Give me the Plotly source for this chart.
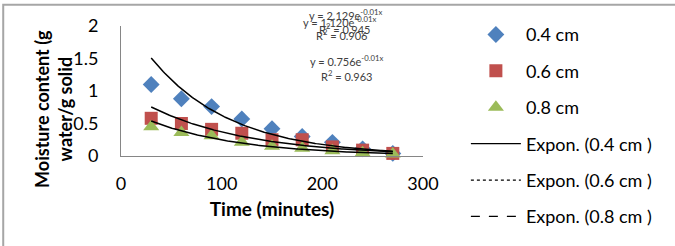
import numpy as np
import plotly.graph_objects as go

time_min = [30, 60, 90, 120, 150, 180, 210, 240, 270]
mc_04 = [1.10, 0.88, 0.76, 0.57, 0.42, 0.30, 0.21, 0.11, 0.04]
mc_06 = [0.58, 0.50, 0.41, 0.35, 0.25, 0.25, 0.14, 0.09, 0.04]
mc_08 = [0.45, 0.36, 0.31, 0.21, 0.15, 0.12, 0.08, 0.05, 0.03]
series_names = ["0.4 cm", "0.6 cm", "0.8 cm"]
trend_names = ["Expon. (0.4 cm )", "Expon. (0.6 cm )", "Expon. (0.8 cm )"]
eq_texts = ["y = 2.129e<sup>-0.01x</sup>", "y = 1.120e<sup>-0.01x</sup>",
            "R<sup>2</sup> = 0.945", "R<sup>2</sup> = 0.906",
            "y = 0.756e<sup>-0.01x</sup>", "R<sup>2</sup> = 0.963"]

colors = ["#4F81BD", "#C0504D", "#9BBB59"]
symbols = ["diamond", "square", "triangle-up"]
sizes = [13, 13, 14]
dashes = ["solid", "dot", "dash"]
FONT = "Lato"

fig = go.Figure()
data = [mc_04, mc_06, mc_08]
for i, ys in enumerate(data):
    fig.add_trace(go.Scatter(x=time_min, y=ys, mode="markers", name=series_names[i],
                             marker=dict(symbol=symbols[i], size=sizes[i], color=colors[i]),
                             legendgroup=f"g{i}", legendrank=i + 1, cliponaxis=False))

xs = np.array(time_min, dtype=float)
xfit = np.linspace(xs.min(), xs.max(), 200)
for i, ys in enumerate(data):
    k, lna = np.polyfit(xs, np.log(np.array(ys)), 1)
    fig.add_trace(go.Scatter(x=xfit, y=np.exp(lna) * np.exp(k * xfit), mode="lines",
                             line=dict(color="black", width=1.5), showlegend=False,
                             hoverinfo="skip", cliponaxis=False))
for i in range(3):
    fig.add_trace(go.Scatter(x=[None], y=[None], mode="lines", name=trend_names[i],
                             line=dict(color="black", width=1.2, dash=dashes[i]),
                             legendgroup=f"t{i}", legendrank=4 + i))

# annotation positions in paper coordinates (x, y)
eq_pos = [(0.742, 1.085), (0.725, 1.031), (0.742, 0.977), (0.732, 0.931), (0.748, 0.731), (0.748, 0.623)]
for t, (ax_, ay_) in zip(eq_texts, eq_pos):
    fig.add_annotation(x=ax_, y=ay_, xref="paper", yref="paper", text=t, showarrow=False,
                       xanchor="center", yanchor="middle",
                       font=dict(family=FONT, size=11, color="#404040"))

fig.add_annotation(x=-0.222, y=0.362, xref="paper", yref="paper", showarrow=False,
                   text="<b>Moisture content (g<br>water/g solid</b>", textangle=-90,
                   xanchor="center", yanchor="middle", font=dict(family=FONT, size=18))

fig.add_shape(type="rect", xref="paper", yref="paper", x0=-0.39, x1=1.9, y0=-0.9, y1=1.163,
              line=dict(color="#A6A6A6", width=2), layer="below")

fig.update_layout(
    width=675, height=246,
    margin=dict(l=121, r=252, t=26, b=90),
    paper_bgcolor="white", plot_bgcolor="white",
    font=dict(family=FONT, size=18, color="#000000"),
    showlegend=True,
    legend=dict(x=1.142, xanchor="left", y=1.075, yanchor="top", tracegroupgap=10,
                maxheight=246, itemwidth=50,
                font=dict(family=FONT, size=18), bgcolor="rgba(0,0,0,0)"),
    xaxis=dict(range=[0, 300], tickvals=[0, 100, 200, 300], showgrid=False, zeroline=False,
               showline=True, linecolor="#868686", linewidth=1, ticks="",
               ticklabelstandoff=11, tickfont=dict(size=18),
               title=dict(text="<b>Time (minutes)</b>", font=dict(family=FONT, size=19), standoff=10)),
    yaxis=dict(range=[0, 2], tickvals=[0, 0.5, 1, 1.5, 2], ticktext=["0", "0.5", "1", "1.5", "2"],
               showgrid=False, zeroline=False, showline=True, linecolor="#868686", linewidth=1,
               ticks="", ticklabelstandoff=18, tickfont=dict(size=18)),
)

fig.write_html("out.html")
